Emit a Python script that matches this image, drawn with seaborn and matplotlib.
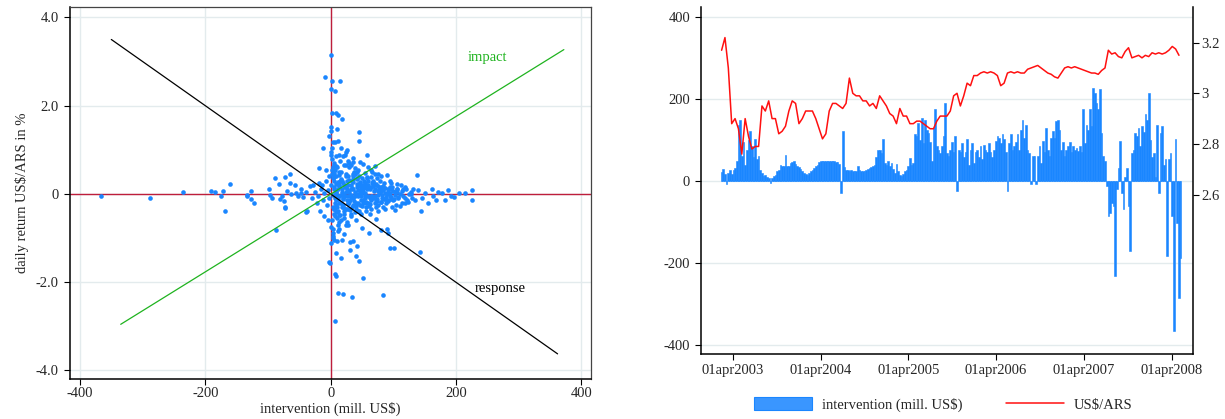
import matplotlib
matplotlib.use("Agg")
import matplotlib.pyplot as plt
import matplotlib.dates as mdates
from matplotlib.patches import Patch
from matplotlib.lines import Line2D
import numpy as np
import pandas as pd
import seaborn as sns

# ---------------------------------------------------------------------------
# Left panel: daily intervention (mill. US$) vs. daily return of US$/ARS (%)
# ---------------------------------------------------------------------------
neg_x = [-367, -287.5, -235, -191.5, -184.5, -175.5, -172, -160.5, -168, -134,
         -133, -126.4, -127.5, -123, -98.7, -97, -93, -89, -82.7, -73,
         -64.5, -64.5, -57, -81, -78, -75, -73, -69, -63.5, -55,
         -52, -48, -47, -39.5, -39.5, -32.5, -87.4, -72.6, -37.6, -16.6,
         -19, -28, -25, -20, -15, -12, -10, -8, -6, -5,
         -3, -2, -22, -18, -30, -10, -4, -7, -14, -44]
neg_y = [-0.06, -0.10, 0.05, 0.07, 0.04, -0.06, 0.06, 0.22, -0.39, -0.06,
         -0.02, 0.06, -0.12, -0.20, 0.10, -0.03, -0.10, 0.35, 0.23, 0.39,
         0.46, 0.25, 0.20, -0.12, -0.05, -0.17, -0.31, 0.07, 0.00, 0.01,
         -0.06, 0.02, 0.10, 0.04, -0.42, 0.17, -0.81, -0.32, -0.40, -0.39,
         0.58, 0.21, 0.05, -0.05, 0.12, -0.15, 0.02, 0.30, -0.25, 0.08,
         -0.10, 0.40, -0.20, 0.25, -0.10, -0.50, -0.60, 0.55, 0.20, -0.08]

top_x = [1, -9.6, 2.7, 15.5, 0, 7.5, 2, 9, 11, 18,
         0, 1, 10, 45, -2, 44.8, 3, 7.5, 12, -13,
         2.7, 26.7, 16.5, 20, 25, 57.6, 0.5, 13, 23, 35]
top_y = [3.14, 2.66, 2.55, 2.55, 2.38, 2.34, 1.83, 1.83, 1.79, 1.69,
         1.51, 1.43, 1.47, 1.40, 1.30, 1.20, 1.17, 1.17, 1.20, 1.05,
         1.03, 1.00, 1.05, 0.85, 0.94, 0.87, 0.89, 0.87, 0.88, 0.72]

low_x = [-2, -0.5, 6.4, 8, 51, 11.7, 19, 34, 84, 6.4,
         8.5, 16, 31.5, 42.7, 40, 44.8, 93.9, 101, 142, 0,
         5.3, 10.7, 18, 31, 36, 72.5, 60.8, 79.5, 89.6, 90.7,
         49.6, 3, 22, 14, 27]
low_y = [-1.54, -1.57, -1.83, -1.87, -1.91, -2.24, -2.27, -2.33, -2.29, -2.89,
         -1.35, -1.45, -1.27, -1.19, -1.40, -1.53, -1.23, -1.22, -1.33, -1.12,
         -1.05, -1.08, -1.05, -1.10, -1.08, -0.58, -0.89, -0.82, -0.79, -0.89,
         -0.77, -0.95, -0.92, -0.80, -0.70]

tail_x = [225, 225.6, 214, 204, 187, 192, 182, 178, 168, 164,
          161, 150, 145, 144, 138, 134, 128, 123, 114, 102,
          89.6, 155, 172, 196, 140, 132, 118, 110, 106, 98]
tail_y = [0.08, -0.13, 0.01, 0.01, 0.08, -0.05, -0.14, 0.01, -0.13, -0.05,
          0.10, 0.01, -0.10, -0.39, 0.42, -0.14, 0.00, -0.18, -0.20, -0.37,
          0.43, -0.20, 0.05, -0.08, 0.08, 0.12, 0.15, -0.28, 0.22, -0.30]

core_x = [1, 2, 3, 4, 5, 6, 7, 8, 9, 10,
          11, 12, 13, 14, 2, 4, 6, 8, 10, 12,
          3, 5, 7, 9, 11, 1, 3, 5, 7, 9,
          13, 15, 2, 6, 10, 14, 4, 8, 12, 1,
          16, 18, 20, 22, 24, 26, 28, 30, 32, 34,
          36, 38, 40, 42, 44, 46, 48, 50, 52, 54,
          56, 58, 60, 17, 21, 25, 29, 33, 37, 41,
          45, 49, 53, 57, 19, 23, 27, 31, 35, 39,
          43, 47, 51, 55, 59, 18, 24, 30, 36, 42,
          48, 54, 60, 20, 28, 36, 44, 52, 15, 26,
          62, 65, 68, 70, 72, 75, 78, 80, 82, 85,
          88, 90, 92, 95, 98, 100, 102, 105, 108, 110,
          112, 115, 118, 120, 125, 130, 64, 70, 76, 84,
          94, 104, 116, 66, 74, 86, 96, 106, 122, 128]
core_y = [0.95, 0.80, 0.60, 0.45, 0.30, 0.15, -0.10, -0.25, -0.40, -0.55,
          -0.70, -0.85, 0.50, 0.20, -0.60, -0.90, 0.70, 0.40, -0.30, 0.10,
          0.35, -0.45, 0.55, -0.15, 0.25, -0.75, -1.00, 0.65, -0.50, 0.05,
          -0.20, 0.30, 0.45, -0.35, 0.60, -0.65, -0.80, 0.85, -0.05, 0.20,
          0.50, -0.30, 0.25, -0.55, 0.40, 0.10, -0.20, 0.60, -0.45, 0.30,
          -0.10, 0.45, -0.35, 0.15, 0.55, -0.25, 0.05, 0.35, -0.15, 0.20,
          -0.40, 0.10, -0.05, -0.60, 0.65, -0.70, 0.70, -0.50, 0.50, -0.60,
          0.40, -0.45, 0.30, -0.30, 0.00, 0.15, -0.05, -0.15, 0.10, 0.00,
          -0.20, 0.25, 0.05, -0.10, 0.20, 0.30, -0.35, 0.05, -0.25, 0.35,
          -0.05, 0.15, -0.20, -0.10, 0.20, 0.40, -0.40, 0.10, 0.75, -0.65,
          0.10, -0.15, 0.30, -0.05, 0.20, -0.25, 0.05, 0.15, -0.10, 0.25,
          -0.20, 0.00, 0.10, -0.05, 0.15, -0.15, 0.05, 0.10, -0.10, 0.00,
          0.20, -0.05, -0.20, 0.10, 0.00, -0.10, -0.35, 0.45, -0.40, -0.30,
          0.30, -0.25, 0.10, 0.50, 0.35, -0.35, 0.25, 0.05, -0.15, 0.05]

band_x = [5, 9, 14, 19, 24, 29, 34, 39, 44, 49,
          54, 59, 64, 69, 74, 79, 84, 89, 94, 99,
          7, 12, 17, 22, 27, 32, 37, 42, 47, 52,
          57, 62, 67, 72, 77, 82, 87, 92, 97, 103,
          6, 11, 16, 21, 26, 31, 36, 41, 46, 51,
          56, 61, 66, 71, 76, 81, 86, 91, 96, 101,
          3, 8, 13, 18, 23, 28, 33, 38, 43, 48]
band_y = [0.12, -0.08, 0.18, -0.12, 0.05, -0.18, 0.14, -0.06, 0.08, -0.14,
          0.02, 0.16, -0.04, 0.07, -0.11, 0.03, 0.09, -0.07, 0.01, 0.06,
          -0.22, 0.26, -0.02, 0.21, -0.24, 0.11, -0.16, 0.22, -0.01, 0.13,
          -0.19, -0.09, 0.17, -0.13, 0.10, -0.03, -0.12, 0.04, -0.08, -0.02,
          0.38, -0.38, 0.32, -0.32, 0.28, -0.36, 0.33, -0.28, 0.26, -0.22,
          0.19, -0.27, 0.24, -0.21, 0.18, -0.19, 0.14, -0.16, 0.12, -0.11,
          -0.02, 0.02, -0.04, 0.04, -0.06, 0.06, -0.03, 0.03, 0.00, -0.01]

dense_x = [4, 8, 12, 16, 20, 24, 28, 32, 36, 40,
           44, 48, 52, 56, 60, 64, 68, 72, 76, 80,
           6, 10, 14, 18, 22, 26, 30, 34, 38, 42,
           46, 50, 54, 58, 62, 66, 70, 74, 78, 82,
           15, 25, 35, 45, 55, 65, 75, 85, 95, 105,
           2, 5, 9, 13, 17, 21, 27, 33, 39, 63,
           67, 73, 79, 83, 87, 91, 97, 107, 113, 119]
dense_y = [-0.30, 0.22, -0.12, 0.34, -0.26, 0.18, 0.40, -0.08, 0.26, -0.20,
           -0.05, 0.12, 0.20, -0.22, 0.28, 0.16, -0.10, 0.22, 0.06, -0.18,
           0.48, -0.42, 0.42, 0.10, -0.38, -0.15, 0.32, -0.30, -0.42, 0.34,
           0.18, -0.28, -0.06, 0.36, -0.24, -0.06, 0.12, -0.16, 0.14, 0.08,
           -0.48, 0.45, 0.44, -0.40, 0.24, 0.38, -0.02, -0.12, 0.16, 0.12,
           0.55, -0.35, 0.62, -0.48, -0.20, -0.45, -0.35, 0.20, -0.25, -0.45,
           0.26, -0.30, 0.30, 0.18, 0.02, -0.14, -0.12, -0.08, 0.06, -0.10]

upper_x = [33, 38, 47, 52, 60, 65, 70, 28, 42, 55, 75, 80, 36, 24, 58]
upper_y = [0.65, 0.58, 0.72, 0.68, 0.60, 0.55, 0.62, 0.75, 0.50, 0.47,
           0.45, 0.40, 0.82, 0.66, 0.38]

# fitted "response" and "impact" lines (end points)
response_x = [-350, 362]
response_y = [3.50, -3.63]
impact_x = [-335, 372]
impact_y = [-2.96, 3.27]

left_xticks = [-400, -200, 0, 200, 400]
left_xticklabels = ["-400", "-200", "0", "200", "400"]
left_yticks = [-4, -2, 0, 2, 4]
left_yticklabels = ["-4.0", "-2.0", "0", "2.0", "4.0"]

# ---------------------------------------------------------------------------
# Right panel: weekly intervention (bars) and US$/ARS rate (line)
# ---------------------------------------------------------------------------
intervention = [
    22, 30, 18, -6, 20, 26, 18, 28, 33, 50,
    138, 150, 61, 95, 40, 77, 100, 122, 85, 60,
    102, 55, 62, 28, 20, 12, 14, 10, 8, -4,
    8, 12, 16, 24, 28, 40, 36, 36, 63, 38,
    38, 44, 46, 48, 42, 38, 35, 30, 24, 20,
    18, 16, 20, 24, 28, 32, 36, 40, 46, 48,
    50, 50, 50, 48, 48, 49, 49, 48, 47, 46,
    42, -28, 122, 34, 28, 26, 25, 26, 25, 24,
    25, 37, 26, 24, 24, 25, 26, 30, 33, 35,
    37, 40, 60, 77, 75, 69, 102, 45, 40, 49,
    36, 45, 30, 20, 43, 24, 16, 12, 18, 24,
    28, 36, 57, 40, 45, 114, 110, 142, 100, 155,
    93, 150, 126, 118, 95, 49, 130, 175, 85, 77,
    69, 85, 110, 191, 69, 61, 77, 95, 70, 110,
    -24, 77, 70, 93, 60, 70, 102, 40, 75, 93,
    45, 70, 77, 60, 85, 55, 89, 77, 70, 93,
    70, 60, 77, 98, 110, 105, 93, 114, 102, 70,
    -24, 93, 114, 77, 85, 95, 114, 77, 126, 150,
    105, 138, 77, 69, -8, 61, 61, -8, 61, 85,
    45, 98, 70, 130, 77, 61, 106, 122, 106, 146,
    150, 126, 77, 95, 61, 77, 85, 95, 70, 85,
    75, 80, 73, 85, 70, 175, 92, 138, 126, 175,
    134, 228, 215, 191, 175, 225, 118, 61, 49, -12,
    -85, -77, -53, -61, -232, -20, 33, 98, -28, -69,
    10, 33, -61, -171, 69, 77, 118, 110, 130, 85,
    134, 120, 163, 150, 215, 100, 60, 69, 10, 138,
    -28, 118, 134, 40, 53, -183, 55, 69, -85, -366,
    102, -102, -285, -187]

usd_ars = [
    3.17, 3.22, 3.10, 2.88, 2.90, 2.86, 2.76, 2.90, 2.83, 2.78,
    2.79, 2.79, 2.95, 2.93, 2.97, 2.90, 2.90, 2.84, 2.85, 2.87,
    2.93, 2.97, 2.96, 2.88, 2.90, 2.93, 2.93, 2.93, 2.90, 2.86,
    2.82, 2.84, 2.93, 2.96, 2.96, 2.95, 2.94, 2.96, 3.06, 3.00,
    2.99, 2.99, 2.97, 2.97, 2.95, 2.96, 2.94, 2.99, 2.97, 2.95,
    2.92, 2.91, 2.88, 2.94, 2.91, 2.91, 2.88, 2.88, 2.89, 2.89,
    2.88, 2.87, 2.86, 2.86, 2.89, 2.91, 2.91, 2.91, 2.93, 2.99,
    3.00, 2.95, 2.99, 3.04, 3.03, 3.07, 3.07, 3.08, 3.085, 3.08,
    3.085, 3.08, 3.07, 3.03, 3.04, 3.08, 3.085, 3.08, 3.085, 3.08,
    3.08, 3.095, 3.10, 3.105, 3.11, 3.10, 3.09, 3.08, 3.075, 3.065,
    3.06, 3.08, 3.10, 3.105, 3.10, 3.105, 3.10, 3.095, 3.09, 3.085,
    3.08, 3.08, 3.075, 3.09, 3.10, 3.17, 3.155, 3.16, 3.145, 3.14,
    3.165, 3.18, 3.14, 3.145, 3.15, 3.14, 3.15, 3.145, 3.16, 3.155,
    3.16, 3.155, 3.16, 3.17, 3.185, 3.175, 3.15]

series_start = "2003-02-14"
date_ticks = ["2003-04-01", "2004-04-01", "2005-04-01",
              "2006-04-01", "2007-04-01", "2008-04-01"]
date_ticklabels = ["01apr2003", "01apr2004", "01apr2005",
                   "01apr2006", "01apr2007", "01apr2008"]
right_yticks = [-400, -200, 0, 200, 400]
right_yticklabels = ["-400", "-200", "0", "200", "400"]
rate_ticks = [2.6, 2.8, 3.0, 3.2]
rate_ticklabels = ["2.6", "2.8", "3", "3.2"]

# ---------------------------------------------------------------------------
BLUE = "#1a86ff"
RED = "#ff1010"
CRIMSON = "#be1e3c"
GREEN = "#1fb31f"
GRID = "#e3ebed"
FS = 10.5

sns.set_theme(style="white")
plt.rcParams["font.family"] = ["Liberation Serif", "DejaVu Serif"]
plt.rcParams["font.size"] = FS
plt.rcParams["axes.unicode_minus"] = False

fig = plt.figure(figsize=(12.25, 4.19), dpi=100)

# ----- left: scatter -----
ax1 = fig.add_axes([0.0571, 0.0955, 0.4257, 0.8871])
sx = neg_x + top_x + low_x + tail_x + core_x + band_x + dense_x + upper_x
sy = neg_y + top_y + low_y + tail_y + core_y + band_y + dense_y + upper_y
ax1.set_axisbelow(True)
ax1.grid(True, color=GRID, lw=1.0, zorder=0)
ax1.axhline(0, color=CRIMSON, lw=1.0, zorder=2)
ax1.axvline(0, color=CRIMSON, lw=1.0, zorder=2)
sns.scatterplot(x=sx, y=sy, ax=ax1, s=11, color=BLUE, linewidth=0,
                zorder=3, legend=False)
sns.lineplot(x=response_x, y=response_y, ax=ax1, color="black", lw=0.9,
             zorder=4, legend=False)
sns.lineplot(x=impact_x, y=impact_y, ax=ax1, color=GREEN, lw=0.9,
             zorder=4, legend=False)
ax1.text(219, 3.09, "impact", color=GREEN, fontsize=FS, va="center",
         ha="left")
ax1.text(230, -2.14, "response", color="black", fontsize=FS, va="center",
         ha="left")
ax1.set_xlim(-416, 416)
ax1.set_ylim(-4.2, 4.23)
ax1.set_xticks(left_xticks)
ax1.set_xticklabels(left_xticklabels)
ax1.set_yticks(left_yticks)
ax1.set_yticklabels(left_yticklabels)
ax1.tick_params(axis="both", direction="out", length=4, width=0.8,
                color="black", labelsize=FS, left=True, bottom=True)
ax1.tick_params(axis="y", pad=4)
ax1.tick_params(axis="x", pad=2)
ax1.set_xlabel("intervention (mill. US\\$)", fontsize=FS, labelpad=1)
ax1.set_ylabel("daily return US\\$/ARS in %", fontsize=FS, labelpad=5)
for side in ["left", "bottom"]:
    ax1.spines[side].set_color("black")
    ax1.spines[side].set_linewidth(1.1)
for side in ["top", "right"]:
    ax1.spines[side].set_color("#444444")
    ax1.spines[side].set_linewidth(0.9)

# ----- right: time series -----
ax2 = fig.add_axes([0.5722, 0.1544, 0.4016, 0.8296])
int_dates = mdates.date2num(pd.date_range(series_start, periods=len(intervention), freq="7D"))
rate_dates = mdates.date2num(pd.date_range(series_start, periods=len(usd_ars), freq="14D"))
ax2.set_axisbelow(True)
ax2.yaxis.grid(True, color=GRID, lw=1.0, zorder=0)
ax2.bar(int_dates, intervention, width=7.0, color=BLUE, edgecolor=BLUE,
        linewidth=0.4, zorder=2)
ax2.set_ylim(-423, 426)
ax2.set_xticks(mdates.date2num(pd.to_datetime(date_ticks)))
ax2.set_xticklabels(date_ticklabels)
ax2.set_yticks(right_yticks)
ax2.set_yticklabels(right_yticklabels)
ax2.tick_params(axis="both", direction="out", length=4.3, width=0.8,
                color="black", labelsize=FS, left=True, bottom=True)
ax2.tick_params(axis="y", pad=3.5)
ax2.tick_params(axis="x", pad=2.5)
ax2.spines["top"].set_visible(False)
ax2.spines["right"].set_visible(False)
for side in ["left", "bottom"]:
    ax2.spines[side].set_color("black")
    ax2.spines[side].set_linewidth(1.1)

ax3 = ax2.twinx()
sns.lineplot(x=rate_dates, y=usd_ars, ax=ax3, color=RED, lw=1.1,
             legend=False)
ax3.set_ylim(1.969, 3.342)
ax3.set_yticks(rate_ticks)
ax3.set_yticklabels(rate_ticklabels)
ax3.set_ylabel("")
ax3.tick_params(axis="y", direction="out", length=4.3, width=0.8,
                color="black", labelsize=FS, right=True, pad=2)
ax3.spines["top"].set_visible(False)
ax3.spines["left"].set_visible(False)
ax3.spines["bottom"].set_visible(False)
ax3.spines["right"].set_color("black")
ax3.spines["right"].set_linewidth(1.1)
ax2.set_xlim(mdates.date2num(pd.Timestamp("2002-11-20")),
             mdates.date2num(pd.Timestamp("2008-06-29")))

handles = [Patch(facecolor="#3a96ff", edgecolor=BLUE, linewidth=0.8),
           Line2D([0], [0], color=RED, lw=1.1)]
labels = ["intervention (mill. US\\$)", "US\\$/ARS"]
fig.legend(handles, labels, loc="center", bbox_to_anchor=(943 / 1225, 0.034),
           ncol=2, frameon=False, handlelength=4.0, handleheight=1.0,
           columnspacing=3.0, handletextpad=0.65, fontsize=FS)

fig.savefig("out.png", dpi=100)
